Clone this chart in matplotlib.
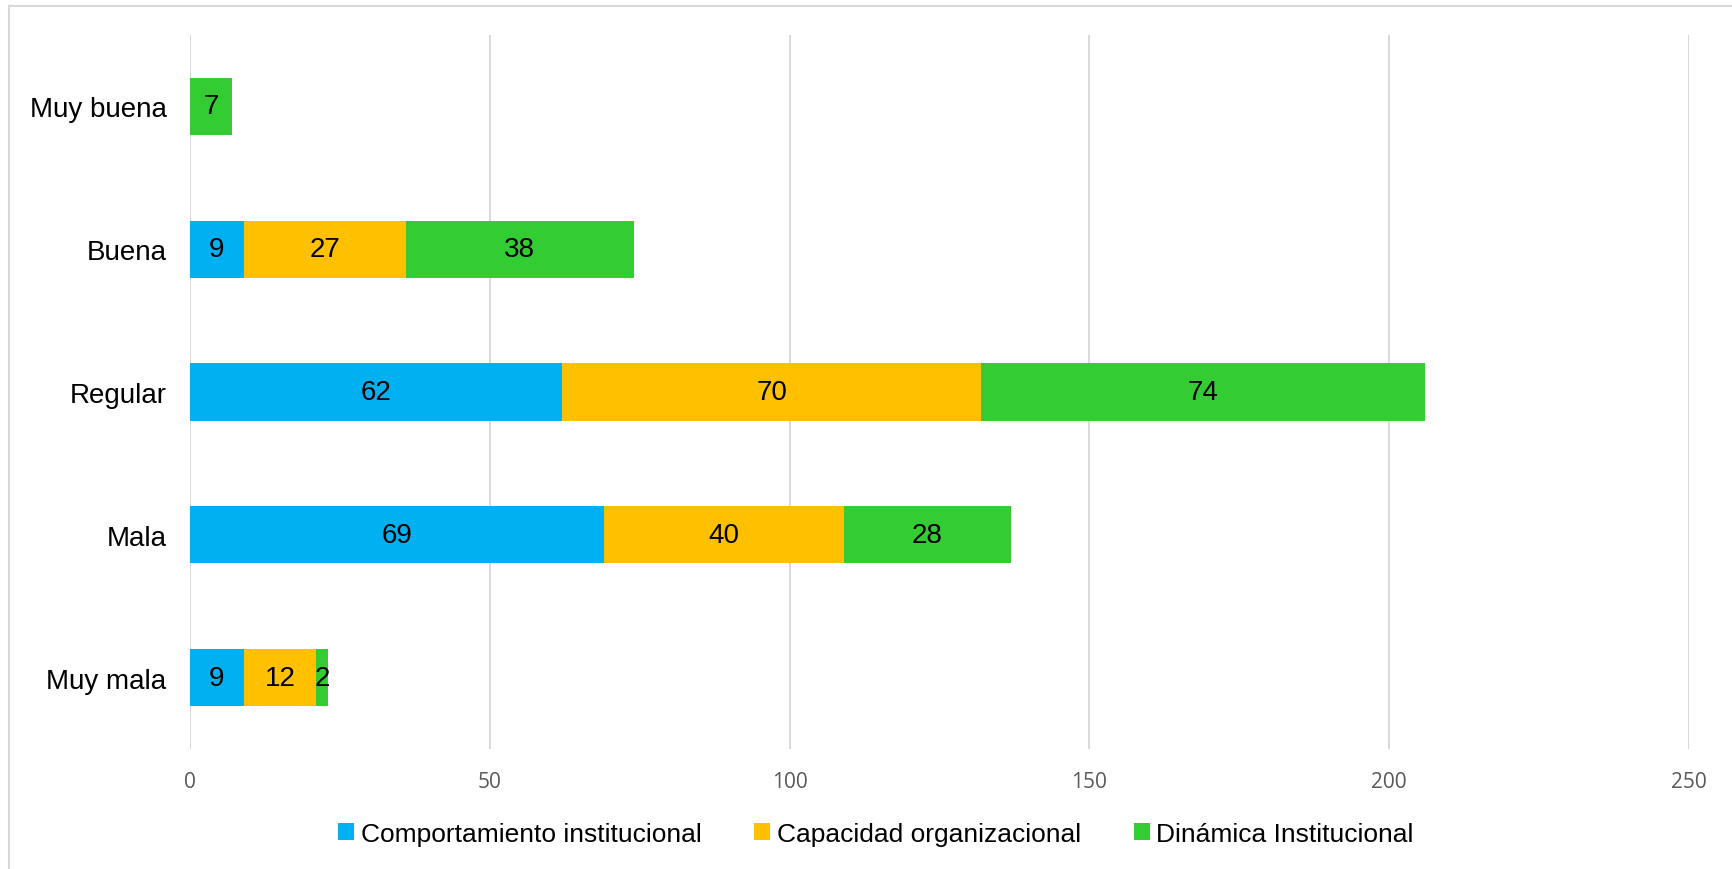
import matplotlib.pyplot as plt
from matplotlib.lines import Line2D

# Datos
categorias = ['Muy mala', 'Mala', 'Regular', 'Buena', 'Muy buena']
comportamiento = [9, 69, 62, 9, 0]
capacidad = [12, 40, 70, 27, 0]
dinamica = [2, 28, 74, 38, 7]
series = ['Comportamiento institucional', 'Capacidad organizacional', 'Dinámica Institucional']
colores = ['#00B0F0', '#FFC000', '#33CC33']
ticks_x = [0, 50, 100, 150, 200, 250]

plt.rcParams['font.family'] = ['Liberation Sans', 'DejaVu Sans']

fig = plt.figure(figsize=(17.33, 8.7), dpi=100)
ax = fig.add_axes([190 / 1733, 1 - 750 / 870, 1499 / 1733, 714 / 870])

# Barras apiladas
izquierda = [0] * len(categorias)
for valores, nombre, color in zip([comportamiento, capacidad, dinamica], series, colores):
    barras = ax.barh(categorias, valores, left=izquierda, height=0.4, color=color, label=nombre, zorder=3)
    etiquetas = [str(v) if v > 0 else '' for v in valores]
    ax.bar_label(barras, labels=etiquetas, label_type='center', fontsize=20, color='black')
    izquierda = [a + b for a, b in zip(izquierda, valores)]

ax.set_xlim(0, 250)
ax.set_ylim(-0.5, len(categorias) - 0.5)
ax.set_xticks(ticks_x)
ax.grid(axis='x', color='#D9D9D9', linewidth=1.4, zorder=0)
for s in ax.spines.values():
    s.set_visible(False)
ax.tick_params(axis='both', length=0)
ax.tick_params(axis='x', pad=16)
ax.tick_params(axis='y', pad=17)
for t in ax.get_xticklabels():
    t.set_fontfamily('Open Sans')
    t.set_fontsize(15)
    t.set_color('#595959')
for t in ax.get_yticklabels():
    t.set_fontsize(20)

# Leyenda
fig.legend(loc='center', bbox_to_anchor=(876 / 1733, 1 - 835 / 870), ncol=3, frameon=False,
           fontsize=19, handlelength=0.6, handleheight=0.6, handletextpad=0.25, columnspacing=2.0)

# Borde del area del grafico
fig.add_artist(Line2D([9 / 1733, 9 / 1733], [0, 1 - 7 / 870], color='#D9D9D9', linewidth=1.5))
fig.add_artist(Line2D([9 / 1733, 1], [1 - 7 / 870, 1 - 7 / 870], color='#D9D9D9', linewidth=1.5))

fig.savefig('out.png', dpi=100)
